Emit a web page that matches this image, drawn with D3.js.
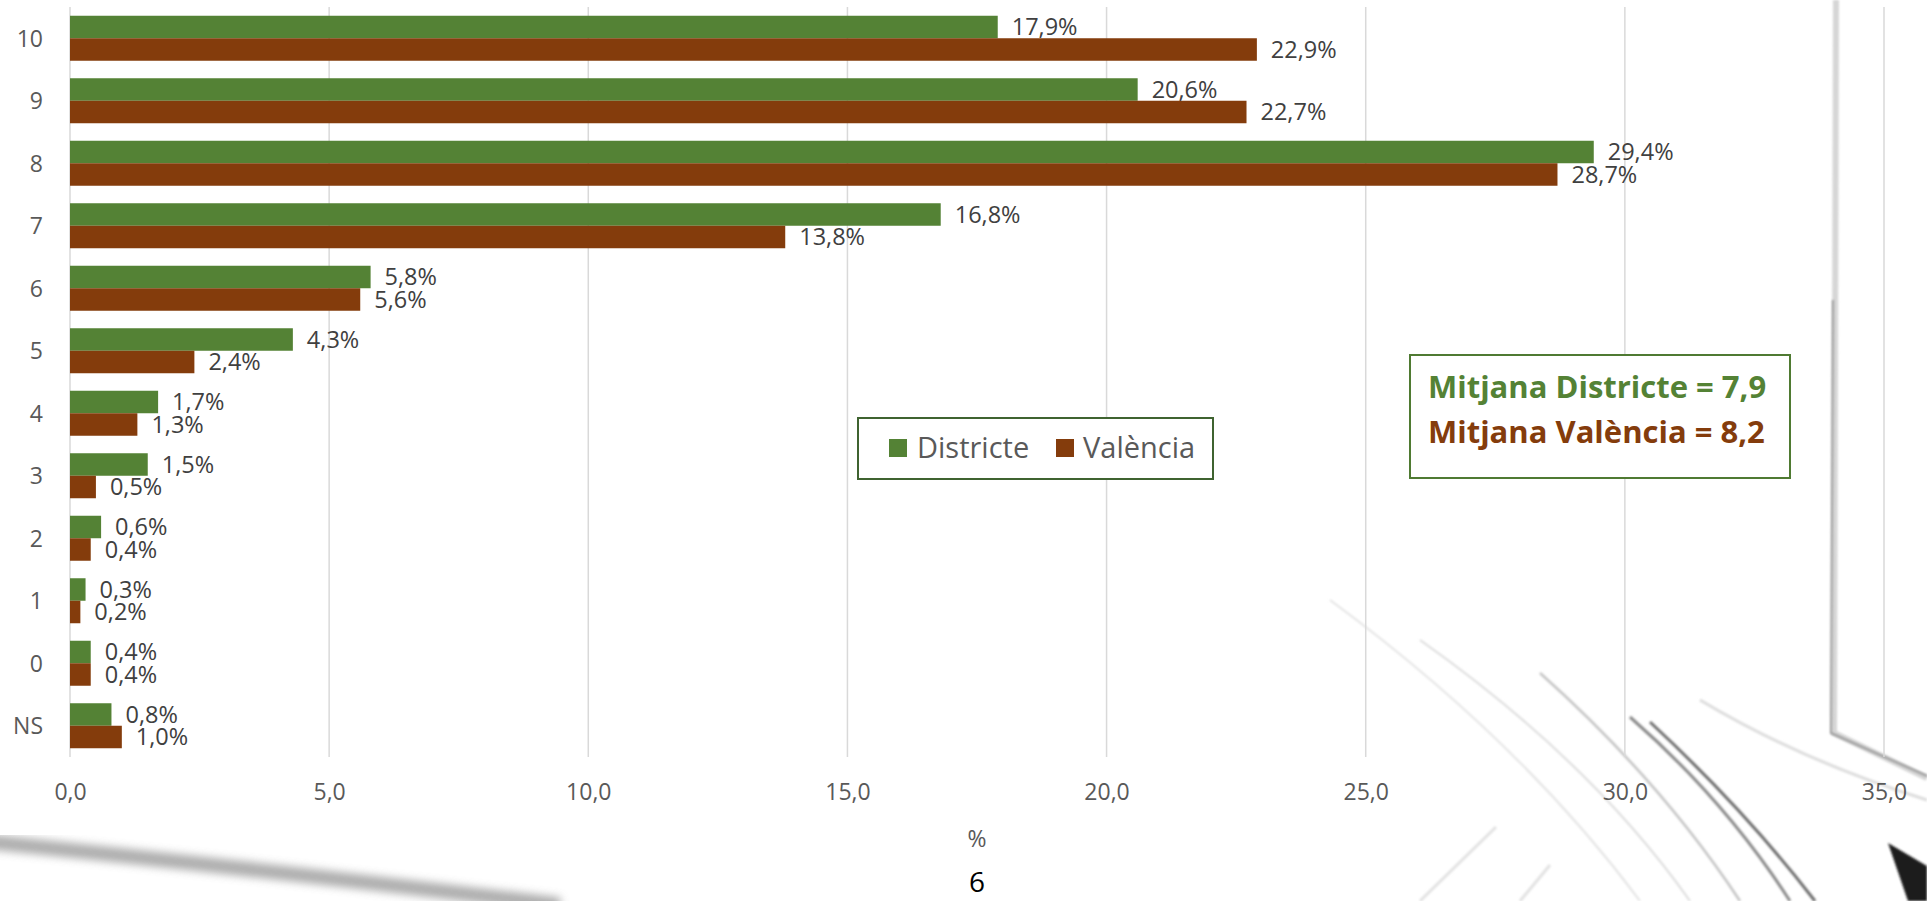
<!DOCTYPE html>
<html>
<head>
<meta charset="utf-8">
<script src="https://cdn.jsdelivr.net/npm/d3@7"></script>
<style>
  html, body { margin: 0; padding: 0; background: #ffffff; }
  svg { display: block; font-family: "Open Sans", "Noto Sans", sans-serif; }
</style>
</head>
<body>
<svg id="chart" width="1927" height="901"></svg>
<script>
// ---- Data ----
const categories = ["10", "9", "8", "7", "6", "5", "4", "3", "2", "1", "0", "NS"];
const seriesNames = ["Districte", "València"];
const districte = [17.9, 20.6, 29.4, 16.8, 5.8, 4.3, 1.7, 1.5, 0.6, 0.3, 0.4, 0.8];
const valencia  = [22.9, 22.7, 28.7, 13.8, 5.6, 2.4, 1.3, 0.5, 0.4, 0.2, 0.4, 1.0];
const xTicks = [0, 5, 10, 15, 20, 25, 30, 35];
const meanLines = ["Mitjana Districte = 7,9", "Mitjana València = 8,2"];
const axisTitle = "%";
const pageNumber = "6";

const colors = { "Districte": "#548235", "València": "#843C0C" };

const svg = d3.select("#chart");

// ---- Decorative background strokes (slide background) ----
const defs = svg.append("defs");
defs.append("filter").attr("id", "blur4").append("feGaussianBlur").attr("stdDeviation", 4);
defs.append("filter").attr("id", "blur2").append("feGaussianBlur").attr("stdDeviation", 1.2);
const bg = svg.append("g");
bg.append("path").attr("d", "M-10,842 Q250,868 560,905").attr("stroke", "#9a9a9a").attr("stroke-width", 15).attr("fill", "none").attr("filter", "url(#blur4)").attr("opacity", 0.8);
// frame on the right
bg.append("path").attr("d", "M1836,0 L1834,733 L1927,778").attr("stroke", "#d6d6d6").attr("stroke-width", 6).attr("fill", "none").attr("filter", "url(#blur2)");
bg.append("path").attr("d", "M1833,300 L1831,733 L1927,776").attr("stroke", "#9c9c9c").attr("stroke-width", 2).attr("fill", "none").attr("filter", "url(#blur2)");
// diagonal strokes bottom right
[
  ["M1330,600 Q1520,740 1640,901", "#e4e4e4", 2],
  ["M1420,640 Q1590,760 1690,901", "#dcdcdc", 2],
  ["M1540,673 Q1660,780 1740,901", "#c4c4c4", 2.5],
  ["M1630,717 Q1725,800 1790,901", "#8a8a8a", 3],
  ["M1650,722 Q1745,810 1815,901", "#6e6e6e", 3],
  ["M1700,700 Q1800,760 1927,800", "#dddddd", 3],
  ["M1496,827 L1420,901", "#e2e2e2", 3],
  ["M1550,865 L1520,901", "#e2e2e2", 3]
].forEach(([d, c, w]) => {
  bg.append("path").attr("d", d).attr("stroke", c).attr("stroke-width", w).attr("fill", "none").attr("filter", "url(#blur2)");
});
bg.append("path").attr("d", "M1888,843 L1927,866 L1927,901 L1908,901 Z").attr("fill", "#1e1e1e").attr("filter", "url(#blur2)");

// ---- Scales ----
const x = d3.scaleLinear().domain([0, 35]).range([70, 1884]);
const y = d3.scaleBand().domain(categories).range([7, 757]).paddingInner(0.28).paddingOuter(0.14);
const ySub = d3.scaleBand().domain(seriesNames).range([0, y.bandwidth()]);

// ---- Gridlines ----
svg.append("g").selectAll("line").data(xTicks).join("line")
  .attr("x1", d => x(d)).attr("x2", d => x(d))
  .attr("y1", 7).attr("y2", 757)
  .attr("stroke", "#d9d9d9").attr("stroke-width", 1.5);

// ---- X axis (labels only) ----
const fmt = d => d.toFixed(1).replace(".", ",");
const xAxis = d3.axisBottom(x).tickValues(xTicks).tickFormat(fmt).tickSize(0).tickPadding(0);
const xg = svg.append("g").attr("transform", "translate(0,787)").call(xAxis);
xg.select(".domain").remove();
xg.selectAll("text").attr("font-size", 23).attr("fill", "#595959").attr("font-family", "Open Sans").attr("dy", "0.55em").attr("y", 0);

// ---- Y axis (labels only) ----
const yAxis = d3.axisLeft(y).tickSize(0).tickPadding(0);
const yg = svg.append("g").attr("transform", "translate(43,0)").call(yAxis);
yg.select(".domain").remove();
yg.selectAll("text").attr("font-size", 23).attr("fill", "#595959").attr("font-family", "Open Sans").attr("dy", "0.36em");

// ---- Bars ----
const rows = categories.map((c, i) => ({ cat: c, vals: [
  { s: "Districte", v: districte[i] },
  { s: "València", v: valencia[i] }
]}));

const groups = svg.append("g").selectAll("g").data(rows).join("g")
  .attr("transform", d => `translate(0,${y(d.cat)})`);

groups.selectAll("rect").data(d => d.vals).join("rect")
  .attr("x", x(0))
  .attr("y", d => ySub(d.s))
  .attr("width", d => x(d.v) - x(0))
  .attr("height", ySub.bandwidth())
  .attr("fill", d => colors[d.s]);

groups.selectAll("text").data(d => d.vals).join("text")
  .attr("x", d => x(d.v) + 14)
  .attr("y", d => ySub(d.s) + ySub.bandwidth() / 2)
  .attr("dy", "0.36em")
  .attr("font-size", 23.5)
  .attr("fill", "#404040")
  .text(d => d.v.toFixed(1).replace(".", ",") + "%");

// ---- Legend ----
const lg = svg.append("g");
lg.append("rect").attr("x", 858).attr("y", 418).attr("width", 355).attr("height", 61)
  .attr("fill", "#ffffff").attr("stroke", "#3f6330").attr("stroke-width", 2);
const legendX = [[889, 917], [1056, 1083]];
seriesNames.forEach((s, i) => {
  lg.append("rect").attr("x", legendX[i][0]).attr("y", 439).attr("width", 18).attr("height", 18).attr("fill", colors[s]);
  lg.append("text").attr("x", legendX[i][1]).attr("y", 458).attr("font-size", 29).attr("fill", "#595959").text(s);
});

// ---- Mean box ----
const mb = svg.append("g");
mb.append("rect").attr("x", 1410).attr("y", 355).attr("width", 380).attr("height", 123)
  .attr("fill", "#ffffff").attr("stroke", "#4f7a32").attr("stroke-width", 2);
meanLines.forEach((t, i) => {
  mb.append("text").attr("x", 1428).attr("y", 398 + i * 45)
    .attr("font-size", 31).attr("font-weight", "bold")
    .attr("fill", colors[seriesNames[i]]).text(t);
});

// ---- Axis title and page number ----
svg.append("text").attr("x", x(17.5)).attr("y", 839).attr("dy", "0.36em")
  .attr("text-anchor", "middle").attr("font-size", 23).attr("fill", "#595959").text(axisTitle);
svg.append("text").attr("x", x(17.5)).attr("y", 882).attr("dy", "0.36em")
  .attr("text-anchor", "middle").attr("font-size", 28).attr("fill", "#000000").text(pageNumber);
</script>
</body>
</html>
